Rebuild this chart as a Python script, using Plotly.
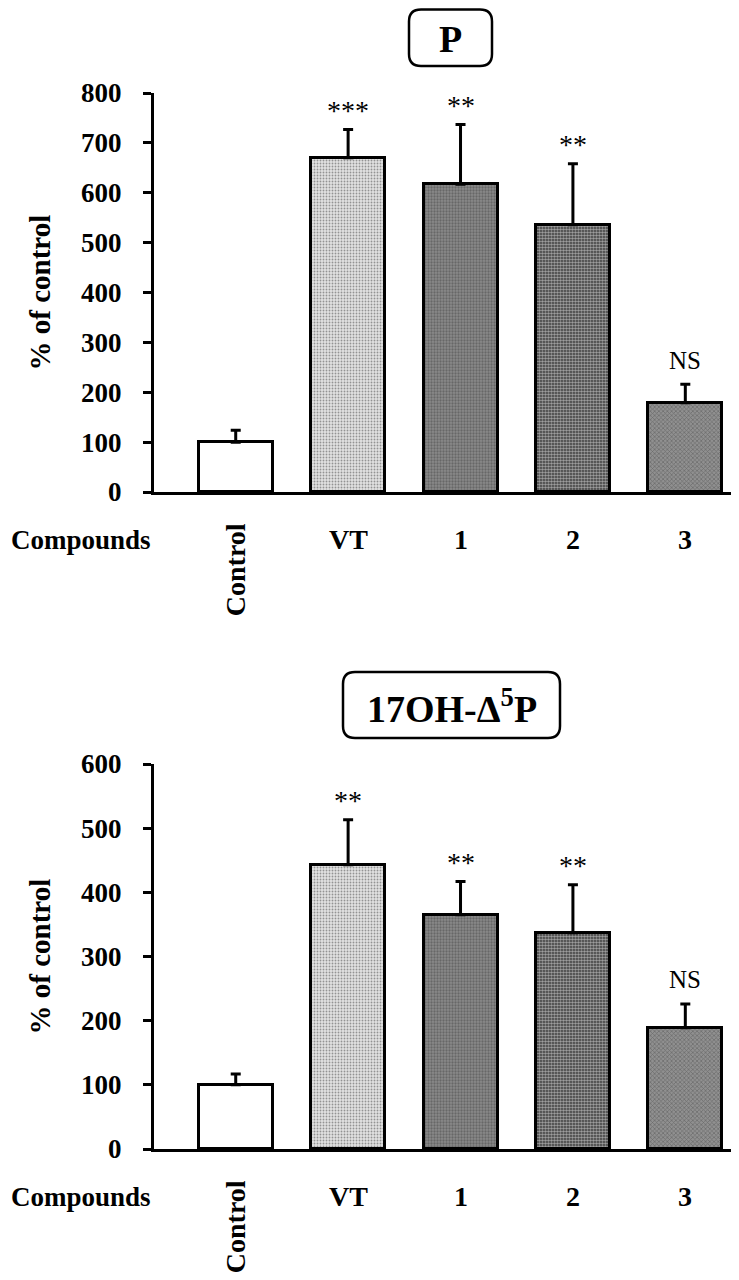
import plotly.graph_objects as go

# ---------------- data ----------------
categories = ["Control", "VT", "1", "2", "3"]
x_label = "Compounds"
y_label = "% of control"

p_title = "P"
p_mean = [100, 670, 617, 536, 179]
p_err = [24, 57, 120, 122, 37]
p_sig = ["", "***", "**", "**", "NS"]
p_ticks = [0, 100, 200, 300, 400, 500, 600, 700, 800]

oh_title = "17OH-Δ<sup>5</sup>P"
oh_mean = [100, 443, 365, 337, 189]
oh_err = [17, 70, 52, 75, 37]
oh_sig = ["", "**", "**", "**", "NS"]
oh_ticks = [0, 100, 200, 300, 400, 500, 600]

# ---------------- styles ----------------
W, H = 739, 1280
PAGE_OFF = 8  # default page margin around the figure
FONT = "Liberation Serif"
bar_bg = ["white", "#e2e2e2", "#8a8a8a", "#3a3a3a", "#909090"]
bar_shape = ["", ".", ".", ".", "x"]
bar_fg = ["black", "#b0b0b0", "black", "white", "black"]
bar_size = [4, 3, 3, 3, 3]
bar_solid = [0.2, 0.3, 0.45, 0.55, 0.4]


def px_x(px):
    return (px - PAGE_OFF) / W


def px_y(py):
    return 1 - (py - PAGE_OFF) / H


fig = go.Figure()

panels = [
    dict(mean=p_mean, err=p_err, sig=p_sig, ticks=p_ticks, title=p_title,
         xa="x", ya="y", dom=(492, 93), box=(409, 9.5, 492, 66)),
    dict(mean=oh_mean, err=oh_err, sig=oh_sig, ticks=oh_ticks, title=oh_title,
         xa="x2", ya="y2", dom=(1149, 764), box=(343, 672, 560, 738)),
]

annotations = []
shapes = []

for pn in panels:
    fig.add_trace(go.Bar(
        x=categories, y=pn["mean"], xaxis=pn["xa"], yaxis=pn["ya"],
        width=0.658,
        marker=dict(
            color=bar_bg,
            line=dict(color="black", width=3),
            pattern=dict(shape=bar_shape, fgcolor=bar_fg, size=bar_size,
                         solidity=bar_solid, fillmode="overlay"),
        ),
        error_y=dict(type="data", symmetric=False, array=pn["err"],
                     arrayminus=[0] * len(pn["err"]), color="black",
                     thickness=3, width=5),
        showlegend=False, hoverinfo="skip",
    ))
    yref = pn["ya"]
    xref = pn["xa"]
    # significance labels
    for i, (m, e, s) in enumerate(zip(pn["mean"], pn["err"], pn["sig"])):
        if not s:
            continue
        is_star = "*" in s
        annotations.append(dict(
            x=i, y=m + e, xref=xref, yref=yref, text=s, showarrow=False,
            yanchor="middle", yshift=19 if is_star else 24,
            font=dict(family=FONT, size=28 if is_star else 25, color="black"),
        ))
    # category labels
    for i, c in enumerate(categories):
        if c == "Control":
            annotations.append(dict(
                x=i, y=0, xref=xref, yref=yref + " domain", text="<b>" + c + "</b>",
                textangle=-90, showarrow=False, yanchor="top", xanchor="center",
                yshift=-29, font=dict(family=FONT, size=28, color="black"),
            ))
        else:
            annotations.append(dict(
                x=i, y=0, xref=xref, yref=yref + " domain", text="<b>" + c + "</b>",
                showarrow=False, yanchor="middle", yshift=-47,
                font=dict(family=FONT, size=28, color="black"),
            ))
    annotations.append(dict(
        x=px_x(81), y=0, xref="paper", yref=yref + " domain", text="<b>" + x_label + "</b>",
        showarrow=False, yanchor="middle", xanchor="center", yshift=-48,
        font=dict(family=FONT, size=27, color="black"),
    ))
    # y title
    annotations.append(dict(
        x=px_x(39), y=0.5, xref="paper", yref=yref + " domain", text="<b>" + y_label + "</b>",
        textangle=-90, showarrow=False, xanchor="center", yanchor="middle",
        font=dict(family=FONT, size=29, color="black"),
    ))
    # title box
    bx0, by0, bx1, by1 = pn["box"]
    r = 12
    path = (f"M {px_x(bx0 + r)} {px_y(by0)} L {px_x(bx1 - r)} {px_y(by0)} "
            f"Q {px_x(bx1)} {px_y(by0)} {px_x(bx1)} {px_y(by0 + r)} "
            f"L {px_x(bx1)} {px_y(by1 - r)} "
            f"Q {px_x(bx1)} {px_y(by1)} {px_x(bx1 - r)} {px_y(by1)} "
            f"L {px_x(bx0 + r)} {px_y(by1)} "
            f"Q {px_x(bx0)} {px_y(by1)} {px_x(bx0)} {px_y(by1 - r)} "
            f"L {px_x(bx0)} {px_y(by0 + r)} "
            f"Q {px_x(bx0)} {px_y(by0)} {px_x(bx0 + r)} {px_y(by0)} Z")
    shapes.append(dict(type="path", path=path, xref="paper", yref="paper",
                       line=dict(color="black", width=2.5)))
    annotations.append(dict(
        x=px_x((bx0 + bx1) / 2), y=px_y((by0 + by1) / 2 + 1), xref="paper", yref="paper",
        text="<b>" + pn["title"] + "</b>", showarrow=False, xanchor="center", yanchor="middle",
        font=dict(family=FONT, size=38, color="black"),
    ))

xaxis_common = dict(
    type="category", categoryorder="array", categoryarray=categories,
    range=[-0.727, 4.442], showline=True, linecolor="black", linewidth=3,
    ticks="", showticklabels=False, showgrid=False, zeroline=False,
    domain=[px_x(154), px_x(735)],
)


def yaxis_common(pn):
    return dict(
        range=[0, pn["ticks"][-1]], tickvals=pn["ticks"],
        ticktext=["<b>%d</b>" % t for t in pn["ticks"]],
        showline=True, linecolor="black", linewidth=3,
        ticks="outside", ticklen=8, tickwidth=2.5, tickcolor="black",
        ticklabelstandoff=16,
        tickfont=dict(family=FONT, size=27, color="black"),
        showgrid=False, zeroline=False,
        domain=[px_y(pn["dom"][0]), px_y(pn["dom"][1])],
    )


fig.update_layout(
    width=W, height=H,
    margin=dict(l=0, r=0, t=0, b=0, pad=0, autoexpand=False),
    paper_bgcolor="white", plot_bgcolor="white",
    xaxis=dict(xaxis_common, anchor="y"),
    yaxis=dict(yaxis_common(panels[0]), anchor="x"),
    xaxis2=dict(xaxis_common, anchor="y2"),
    yaxis2=dict(yaxis_common(panels[1]), anchor="x2"),
    annotations=annotations,
    shapes=shapes,
    bargap=0,
)

fig.write_html("out.html")
